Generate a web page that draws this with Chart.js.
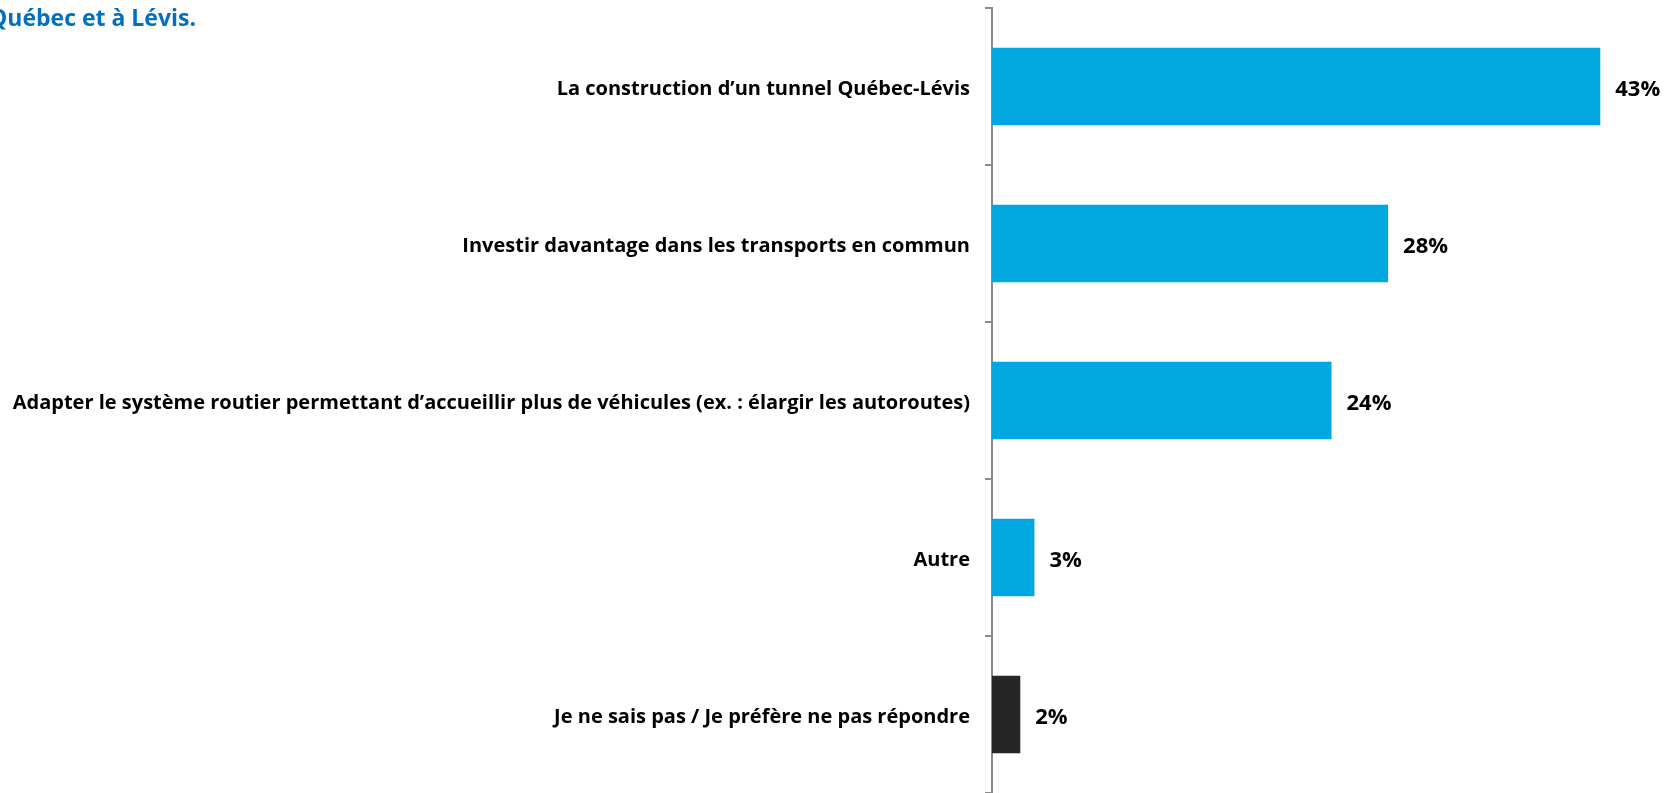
<!DOCTYPE html>
<html>
<head>
<meta charset="utf-8">
<script src="https://cdn.jsdelivr.net/npm/chart.js@4/dist/chart.umd.min.js"></script>
<style>
  html, body { margin: 0; padding: 0; background: #fff; overflow: hidden; }
  #wrap { position: relative; width: 1675px; height: 793px; }
  #title { position: absolute; left: -11px; top: 1px; font: bold 23px "Open Sans", sans-serif; color: #0070C0; white-space: nowrap; }
</style>
</head>
<body>
<div id="wrap">
  <canvas id="chart" width="1675" height="793"></canvas>
  <div id="title">Québec et à Lévis.</div>
</div>
<script>
// --- Data ---
const categories = [
    'La construction d\u2019un tunnel Québec-Lévis',
    'Investir davantage dans les transports en commun',
    'Adapter le système routier permettant d\u2019accueillir plus de véhicules (ex. : élargir les autoroutes)',
    'Autre',
    'Je ne sais pas / Je préfère ne pas répondre'
];
const values = [43, 28, 24, 3, 2];
const barColors = ['#00A7E1', '#00A7E1', '#00A7E1', '#00A7E1', '#262626'];

// value labels at the end of each bar
const valueLabels = {
    id: 'valueLabels',
    afterDatasetsDraw(chart) {
        const ctx = chart.ctx;
        const meta = chart.getDatasetMeta(0);
        ctx.save();
        ctx.font = 'bold 22px "Open Sans", sans-serif';
        ctx.fillStyle = '#000';
        ctx.textAlign = 'left';
        ctx.textBaseline = 'middle';
        meta.data.forEach((bar, i) => {
            ctx.fillText(values[i] + '%', bar.x + 15, bar.y + 3);
        });
        ctx.restore();
    }
};

const ctx = document.getElementById('chart').getContext('2d');
new Chart(ctx, {
    type: 'bar',
    data: {
        labels: categories,
        datasets: [{
            data: values,
            backgroundColor: barColors,
            borderWidth: 0,
            categoryPercentage: 1,
            barPercentage: 0.495
        }]
    },
    options: {
        indexAxis: 'y',
        responsive: false,
        animation: false,
        layout: { padding: { top: 8, right: 4, bottom: 0, left: 0 } },
        plugins: { legend: { display: false }, tooltip: { enabled: false } },
        scales: {
            x: { display: false, min: 0, max: 48 },
            y: {
                afterFit(scale) { scale.width = 992; scale.paddingTop = 0; scale.paddingBottom = 0; },
                border: { display: true, color: '#8C8C8C', width: 2 },
                grid: { drawOnChartArea: false, drawTicks: true, tickLength: 7, color: '#8C8C8C', lineWidth: 2, offset: true },
                ticks: { color: '#000', padding: 15, labelOffset: 3, font: { family: 'Open Sans', weight: 'bold', size: 20 } }
            }
        }
    },
    plugins: [valueLabels]
});
</script>
</body>
</html>
